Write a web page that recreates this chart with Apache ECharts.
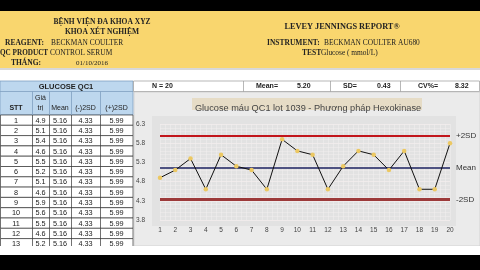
<!DOCTYPE html>
<html>
<head>
<meta charset="utf-8">
<script src="https://cdn.jsdelivr.net/npm/echarts@6/dist/echarts.min.js"></script>
<style>
  html, body { margin: 0; padding: 0; background: #fff; }
  #main { width: 480px; height: 270px; }
</style>
</head>
<body>
<div id="main"></div>
<script>
// số liệu đọc từ báo cáo
const stt = ['1', '2', '3', '4', '5', '6', '7', '8', '9', '10', '11', '12', '13', '14', '15', '16', '17', '18', '19', '20'];
const giaTri = [4.9, 5.1, 5.4, 4.6, 5.5, 5.2, 5.1, 4.6, 5.9, 5.6, 5.5, 4.6, 5.2, 5.6, 5.5, 5.1, 5.6, 4.6, 4.6, 5.8];
const meanVal = 5.16;
const minus2SD = 4.33;
const plus2SD = 5.99;
const statLabels = ['N = 20', 'Mean=', 'SD=', 'CV%='];
const statValues = ['', '5.20', '0.43', '8.32'];
const yTicks = [3.8, 4.3, 4.8, 5.3, 5.8, 6.3];
const tableHead = ['STT', 'Giá\ntrị', 'Mean', '(-)2SD', '(+)2SD'];

const chartDom = document.getElementById('main');
const myChart = echarts.init(chartDom, null, { renderer: 'canvas' });

const serif = '"Liberation Serif", "DejaVu Serif", serif';
const sans = '"Liberation Sans", Arial, sans-serif';

// phần đầu trang (nền vàng, chữ)
const g = [];
g.push({ type: 'rect', shape: { x: 0, y: 0, width: 480, height: 11 }, style: { fill: '#000' }, z: 1 });
g.push({ type: 'rect', shape: { x: 0, y: 11, width: 480, height: 57 }, style: { fill: '#f9d66e' }, z: 1 });
g.push({ type: 'rect', shape: { x: 0, y: 68, width: 480, height: 2 }, style: { fill: '#d8d8d8' }, z: 1 });

const txt = (text, x, y, font, align, color) => ({
    type: 'text', z: 10,
    style: { text: text, x: x, y: y, font: font, fill: color || '#222', textAlign: align || 'left', textVerticalAlign: 'middle' }
});
const hb = 'bold 7.5px ' + serif, hn = '7.4px ' + serif;
g.push(txt('BỆNH VIỆN ĐA KHOA XYZ', 102, 22, hb, 'center'));
g.push(txt('KHOA XÉT NGHIỆM', 102, 32, hb, 'center'));
g.push(txt('REAGENT:', 5, 43, hb));
g.push(txt('BECKMAN COULTER', 51, 43, hn));
g.push(txt('QC PRODUCT', 0, 53, 'bold 7.2px ' + serif));
g.push(txt('CONTROL SERUM', 50, 53, hn));
g.push(txt('THÁNG:', 11, 63, hb));
g.push(txt('01/10/2016', 76, 63, '7px ' + serif));
g.push(txt('LEVEY JENNINGS REPORT®', 342, 27, 'bold 8.3px ' + serif, 'center'));
g.push(txt('INSTRUMENT:', 267, 43, hb));
g.push(txt('BECKMAN COULTER AU680', 324, 43, hn));
g.push(txt('TEST', 302, 53, hb));
g.push(txt('Glucose ( mmol/L)', 321, 53, hn));

// bảng bên trái
const colX = [0, 32, 49, 71, 100, 133];
const rowTop = 115, rowH = 10.3;
const tf = '7px ' + sans;
g.push({ type: 'rect', shape: { x: 0, y: 81, width: 133, height: 34 }, style: { fill: '#bdd7ee', stroke: '#7f9fc0', lineWidth: 0.8 }, z: 2 });
g.push({ type: 'line', shape: { x1: 0, y1: 91.5, x2: 133, y2: 91.5 }, style: { stroke: '#7f9fc0', lineWidth: 0.8 }, z: 3 });
g.push(txt('GLUCOSE QC1', 66, 86.5, 'bold 7.5px ' + sans, 'center'));
tableHead.forEach((h, i) => {
    const cx = (colX[i] + colX[i + 1]) / 2;
    if (h.indexOf('\n') >= 0) {
        const parts = h.split('\n');
        g.push(txt(parts[0], cx, 98, tf, 'center'));
        g.push(txt(parts[1], cx, 108.5, tf, 'center'));
    } else {
        g.push(txt(h, cx, 108.5, (i === 0 ? 'bold ' : '') + tf, 'center'));
    }
    if (i > 0) {
        g.push({ type: 'line', shape: { x1: colX[i] + 0.5, y1: 91.5, x2: colX[i] + 0.5, y2: 115 }, style: { stroke: '#7f9fc0', lineWidth: 0.8 }, z: 3 });
    }
});
for (let r = 0; r < 13; r++) {
    const y0 = rowTop + r * rowH;
    g.push({ type: 'rect', shape: { x: 0.5, y: y0, width: 132.5, height: rowH }, style: { fill: '#fff', stroke: '#333', lineWidth: 0.7 }, z: 2 });
    const cells = [stt[r], giaTri[r].toFixed(1), meanVal.toFixed(2), minus2SD.toFixed(2), plus2SD.toFixed(2)];
    cells.forEach((c, i) => {
        const cx = (colX[i] + colX[i + 1]) / 2;
        g.push(txt(c, cx, y0 + rowH / 2 + 0.5, '7.3px ' + sans, 'center'));
        if (i > 0) {
            g.push({ type: 'line', shape: { x1: colX[i] + 0.5, y1: y0, x2: colX[i] + 0.5, y2: y0 + rowH }, style: { stroke: '#333', lineWidth: 0.7 }, z: 3 });
        }
    });
}

// dòng thống kê
g.push({ type: 'rect', shape: { x: 133.5, y: 81, width: 346, height: 10.5 }, style: { fill: '#fff', stroke: '#999', lineWidth: 0.7 }, z: 2 });
[243, 330, 400].forEach(x => {
    g.push({ type: 'line', shape: { x1: x + 0.5, y1: 81, x2: x + 0.5, y2: 91.5 }, style: { stroke: '#999', lineWidth: 0.7 }, z: 3 });
});
const statLx = [152, 256, 343, 418];
const statVx = [0, 297, 377, 455];
statLabels.forEach((s, i) => {
    g.push(txt(s, statLx[i], 86.5, 'bold 7px ' + sans));
    if (statValues[i]) g.push(txt(statValues[i], statVx[i], 86.5, 'bold 7px ' + sans));
});

// nền biểu đồ
g.push({ type: 'rect', shape: { x: 134, y: 92, width: 346, height: 154 }, style: { fill: '#ebebeb', stroke: '#c8c8c8', lineWidth: 0.7 }, z: 0 });
g.push({ type: 'rect', shape: { x: 152, y: 116, width: 304, height: 110 }, style: { fill: '#e2e2e2' }, z: 0 });
g.push({ type: 'rect', shape: { x: 192, y: 98, width: 230, height: 12 }, style: { fill: '#e6dcc6' }, z: 1 });

// cắt dưới cùng
g.push({ type: 'rect', shape: { x: 0, y: 246, width: 480, height: 9 }, style: { fill: '#fff' }, z: 20 });
g.push({ type: 'rect', shape: { x: 0, y: 255, width: 480, height: 15 }, style: { fill: '#000' }, z: 21 });

const lineLabel = (name) => ({
    show: true, position: 'end', distance: 6, formatter: name,
    color: '#333', fontSize: 8, fontFamily: sans
});

const option = {
    animation: false,
    title: {
        text: 'Glucose máu QC1 lot 1039 - Phương pháp Hexokinase',
        left: 303, top: 98.5, textAlign: 'center',
        textStyle: { fontSize: 9.2, fontWeight: 'normal', color: '#444', fontFamily: sans }
    },
    grid: { left: 160, right: 30, top: 124, bottom: 50, show: false },
    xAxis: [
        {
            type: 'category', data: stt, boundaryGap: false,
            axisLine: { show: false }, axisTick: { show: false },
            axisLabel: { fontSize: 6.5, color: '#444', margin: 7, fontFamily: sans },
            splitLine: { show: false }
        },
        {
            // chỉ dùng để vẽ lưới dọc mảnh
            type: 'value', min: 0, max: 57, interval: 1, show: true,
            axisLine: { show: false }, axisTick: { show: false }, axisLabel: { show: false },
            splitLine: { show: true, lineStyle: { color: '#f0eeee', width: 0.6 } }
        }
    ],
    yAxis: {
        type: 'value', min: yTicks[0], max: yTicks[yTicks.length - 1], interval: 0.5,
        axisLine: { show: false }, axisTick: { show: false },
        axisLabel: { fontSize: 6.5, color: '#444', margin: 15, formatter: v => v.toFixed(1), fontFamily: sans },
        splitLine: { show: true, lineStyle: { color: '#f4eeee', width: 0.8 } },
        minorTick: { show: false, splitNumber: 5 },
        minorSplitLine: { show: true, lineStyle: { color: '#f0ecec', width: 0.6 } }
    },
    series: [
        {
            name: 'Giá trị', type: 'line', data: giaTri, xAxisIndex: 0,
            symbol: 'circle', symbolSize: 4.5, z: 5,
            lineStyle: { color: '#111', width: 1 },
            itemStyle: { color: '#ecc862' },
            markLine: {
                silent: true, symbol: ['none', 'none'],
                data: [
                    { yAxis: plus2SD, lineStyle: { color: '#c2161c', width: 2, type: 'solid' }, label: lineLabel('+2SD') },
                    { yAxis: meanVal, lineStyle: { color: '#1c2260', width: 1.5, type: 'solid' }, label: lineLabel('Mean') },
                    { yAxis: minus2SD, lineStyle: { color: '#9c3a3a', width: 3, type: 'solid' }, label: lineLabel('-2SD') }
                ]
            }
        }
    ],
    graphic: { elements: g }
};

option && myChart.setOption(option);
</script>
</body>
</html>
